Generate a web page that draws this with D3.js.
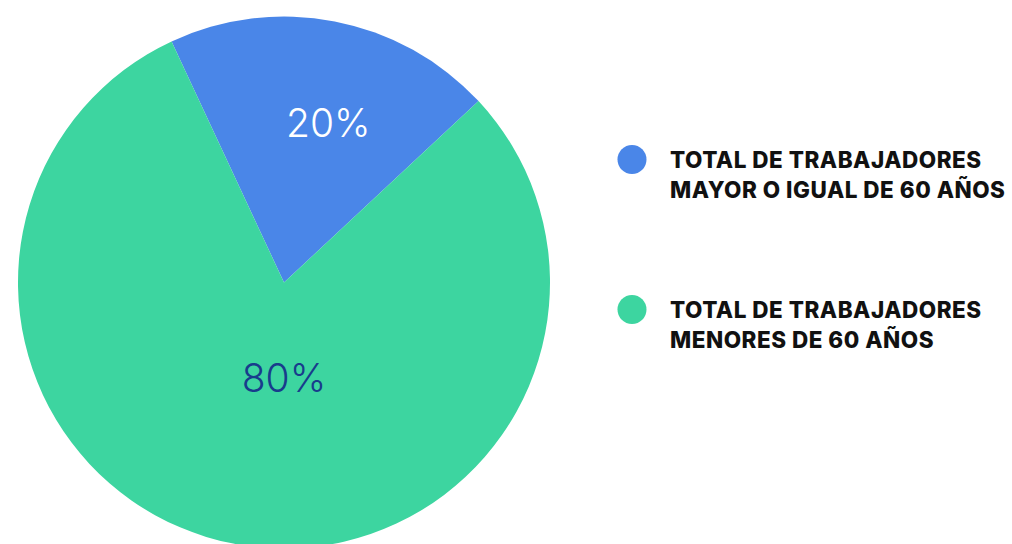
<!DOCTYPE html>
<html lang="es">
<head>
<meta charset="UTF-8">
<title>Trabajadores por edad</title>
<script src="https://cdn.jsdelivr.net/npm/d3@7"></script>
<style>
  body { margin: 0; background: #fff; }
  svg { display: block; }
</style>
</head>
<body>
<div id="chart"></div>
<script>
// data
const categories = ["TOTAL DE TRABAJADORES MAYOR O IGUAL DE 60 AÑOS", "TOTAL DE TRABAJADORES MENORES DE 60 AÑOS"];
const legendLines = [
  ["TOTAL DE TRABAJADORES", "MAYOR O IGUAL DE 60 AÑOS"],
  ["TOTAL DE TRABAJADORES", "MENORES DE 60 AÑOS"]
];
const values = [20, 80];
const colors = ["#4a86e8", "#3dd5a0"];
const labelColors = ["#ffffff", "#183c8c"];

const w = 1012, h = 544;
const cx = 284, cy = 282.5, radius = 266;

const svg = d3.select('#chart').append('svg')
  .attr('width', w)
  .attr('height', h);

// pie rotated so the small slice sits near the top
const start = -25 * Math.PI / 180;
const pie = d3.pie().sort(null).startAngle(start).endAngle(start + 2 * Math.PI);
const arc = d3.arc().innerRadius(0).outerRadius(radius);
const arcs = pie(values);

const g = svg.append('g').attr('transform', `translate(${cx},${cy})`);

g.selectAll('path')
  .data(arcs)
  .enter()
  .append('path')
  .attr('d', arc)
  .attr('fill', (d, i) => colors[i]);

// label placement: radius and angle shift per slice
const labelRadius = [166, 95];
const labelShift = [4.5, -11];
g.selectAll('text.pct')
  .data(arcs)
  .enter()
  .append('text')
  .attr('class', 'pct')
  .attr('x', (d, i) => {
    const a = (d.startAngle + d.endAngle) / 2 + labelShift[i] * Math.PI / 180;
    return Math.sin(a) * labelRadius[i];
  })
  .attr('y', (d, i) => {
    const a = (d.startAngle + d.endAngle) / 2 + labelShift[i] * Math.PI / 180;
    return -Math.cos(a) * labelRadius[i];
  })
  .attr('dy', '0.36em')
  .attr('text-anchor', 'middle')
  .attr('font-family', 'Inter, sans-serif')
  .attr('font-weight', 300)
  .attr('font-size', 39)
  .attr('fill', (d, i) => labelColors[i])
  .text(d => d.data + '%');

// legend
const legend = svg.append('g').attr('transform', 'translate(632,0)');
const legendY = d3.scalePoint().domain(categories).range([159.5, 309.5]);

const item = legend.selectAll('g')
  .data(categories)
  .enter()
  .append('g')
  .attr('transform', d => `translate(0,${legendY(d)})`);

item.append('circle')
  .attr('r', 14.5)
  .attr('fill', (d, i) => colors[i]);

item.each(function (d, i) {
  const t = d3.select(this).append('text')
    .attr('x', 38)
    .attr('font-family', 'Inter, sans-serif')
    .attr('font-weight', 800)
    .attr('font-size', 22.5)
    .attr('fill', '#111')
    .style('letter-spacing', '0.5px');
  legendLines[i].forEach((line, j) => {
    t.append('tspan')
      .attr('x', 38)
      .attr('y', 8 + j * 30)
      .text(line);
  });
});
</script>
</body>
</html>
